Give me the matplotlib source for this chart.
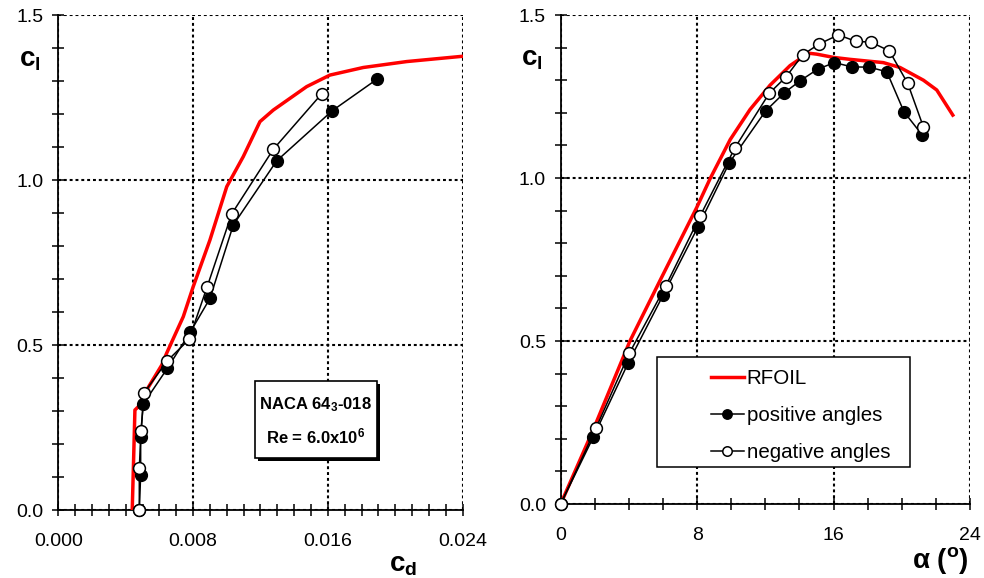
import matplotlib
matplotlib.use("Agg")
import matplotlib.pyplot as plt
import matplotlib.patheffects as pe
from matplotlib.patches import Rectangle
from matplotlib.ticker import MultipleLocator, FormatStrFormatter

plt.rcParams['font.family'] = ['Liberation Sans', 'DejaVu Sans']
plt.rcParams['mathtext.fontset'] = 'custom'
plt.rcParams['mathtext.rm'] = 'Liberation Sans'
plt.rcParams['mathtext.bf'] = 'Liberation Sans:bold'
plt.rcParams['mathtext.it'] = 'Liberation Sans:italic'

# NACA 64-3-018, Re = 6e6 -- drag polar (cd, cl)
cd_rfoil = [0.00439, 0.00447, 0.00455, 0.00475, 0.00525, 0.00614, 0.00643, 0.00742,
            0.00801, 0.00900, 0.01000, 0.01098, 0.01197, 0.01276, 0.01474, 0.01612,
            0.01810, 0.02068, 0.02420]
cl_rfoil_polar = [0.0, 0.15, 0.303, 0.313, 0.364, 0.439, 0.475, 0.586, 0.677, 0.818,
                  0.980, 1.071, 1.177, 1.212, 1.283, 1.318, 1.341, 1.359, 1.376]

cd_pos = [0.00481, 0.00489, 0.00489, 0.00504, 0.00647, 0.00782, 0.00900, 0.01039,
          0.01296, 0.01626, 0.01890]
cl_pos_polar = [0.0, 0.106, 0.220, 0.321, 0.429, 0.538, 0.641, 0.864, 1.058, 1.210, 1.305]

cd_neg = [0.00481, 0.00481, 0.00491, 0.00509, 0.00647, 0.00776, 0.00884, 0.01029,
          0.01276, 0.01563]
cl_neg_polar = [0.0, 0.126, 0.239, 0.355, 0.452, 0.517, 0.677, 0.897, 1.093, 1.261]

# lift curve (alpha, cl)
alpha_rfoil = [0.0, 1.91, 4.06, 5.82, 7.98, 8.76, 9.94, 11.1, 12.28, 13.45, 14.52,
               15.01, 16.0, 16.97, 18.92, 19.9, 21.27, 22.05, 22.99]
cl_rfoil = [0.0, 0.228, 0.50, 0.685, 0.91, 0.998, 1.118, 1.210, 1.285, 1.345, 1.383,
            1.380, 1.370, 1.364, 1.354, 1.339, 1.30, 1.27, 1.193]

alpha_pos = [0.0, 1.91, 3.96, 6.02, 8.04, 9.89, 12.02, 13.1, 14.03, 15.07, 16.05,
             17.07, 18.1, 19.12, 20.13, 21.21]
cl_pos = [0.0, 0.205, 0.433, 0.642, 0.849, 1.047, 1.206, 1.261, 1.298, 1.334, 1.354,
          1.341, 1.340, 1.326, 1.203, 1.131]

alpha_neg = [0.0, 2.07, 4.02, 6.16, 8.19, 10.22, 12.23, 13.21, 14.19, 15.15, 16.28,
             17.32, 18.18, 19.27, 20.35, 21.27]
cl_neg = [0.0, 0.233, 0.462, 0.669, 0.885, 1.093, 1.260, 1.310, 1.378, 1.411, 1.439,
          1.419, 1.417, 1.390, 1.290, 1.156]

RED = '#ff0000'
dots = (0, (1.4, 1.4))

fig = plt.figure(figsize=(9.84, 5.78), dpi=100)
ax1 = fig.add_axes([0.0592, 0.1176, 0.411, 0.8564])
ax2 = fig.add_axes([0.5698, 0.128, 0.416, 0.846])


def style_axes(ax, xmaj, xmin, xmax, ymax, xfmt):
    ax.set_xlim(0, xmax)
    ax.set_ylim(0, ymax)
    ax.xaxis.set_major_locator(MultipleLocator(xmaj))
    ax.xaxis.set_minor_locator(MultipleLocator(xmin))
    ax.yaxis.set_major_locator(MultipleLocator(0.5))
    ax.yaxis.set_minor_locator(MultipleLocator(0.1))
    ax.xaxis.set_major_formatter(FormatStrFormatter(xfmt))
    ax.yaxis.set_major_formatter(FormatStrFormatter('%.1f'))
    ax.tick_params(which='both', direction='inout', length=9, width=1.1,
                   top=False, right=False, labelsize=14, color='black')
    ax.tick_params(axis='x', pad=12)
    ax.tick_params(axis='y', pad=6)
    ax.grid(True, which='major', color='black', linestyle=dots, linewidth=1.5)
    ax.spines['top'].set_visible(False)
    ax.spines['right'].set_visible(False)
    ax.spines['left'].set_linewidth(1.3)
    ax.spines['bottom'].set_linewidth(1.3)
    ax.set_axisbelow(True)
    ax.text(-0.07, 0.91, r'$\mathbf{c_l}$', transform=ax.transAxes, fontsize=20,
            ha='center', va='center')


def draw_series(ax, x_rf, y_rf, x_p, y_p, x_n, y_n):
    ax.plot(x_rf, y_rf, color=RED, linewidth=2.5, label='RFOIL', zorder=3)
    ax.plot(x_p, y_p, color='black', linewidth=1.1, marker='o', markersize=8.5,
            markerfacecolor='black', markeredgecolor='black', label='positive angles',
            zorder=4, clip_on=False)
    ax.plot(x_n, y_n, color='black', linewidth=1.1, marker='o', markersize=8.5,
            markerfacecolor='white', markeredgecolor='black', markeredgewidth=1.1,
            label='negative angles', zorder=5, clip_on=False)


# left: drag polar
style_axes(ax1, 0.008, 0.001, 0.024, 1.5, '%.3f')
draw_series(ax1, cd_rfoil, cl_rfoil_polar, cd_pos, cl_pos_polar, cd_neg, cl_neg_polar)
ax1.text(0.852, -0.111, r'$\mathbf{c_d}$', transform=ax1.transAxes, fontsize=20,
         ha='center', va='center')

# airfoil / Reynolds number box with a drop shadow
box = Rectangle((0.486, 0.105), 0.302, 0.156, transform=ax1.transAxes,
                facecolor='white', edgecolor='black', linewidth=1.2, zorder=6)
box.set_path_effects([pe.SimplePatchShadow(offset=(2.2, -2.2), shadow_rgbFace='black',
                                           alpha=1.0), pe.Normal()])
ax1.add_patch(box)
ax1.text(0.637, 0.212, 'NACA 64$_{\\mathbf{3}}$-018', transform=ax1.transAxes,
         fontsize=12, fontweight='bold', ha='center', va='center', zorder=7)
ax1.text(0.637, 0.148, 'Re = 6.0x10$^{\\mathbf{6}}$', transform=ax1.transAxes,
         fontsize=12, fontweight='bold', ha='center', va='center', zorder=7)

# right: lift curve
style_axes(ax2, 8, 2, 24, 1.5, '%d')
draw_series(ax2, alpha_rfoil, cl_rfoil, alpha_pos, cl_pos, alpha_neg, cl_neg)
ax2.text(0.927, -0.115, r'α ($^{\mathbf{o}}$)', transform=ax2.transAxes, fontsize=20,
         fontweight='bold', ha='center', va='center')

frame = Rectangle((0.235, 0.0757), 0.618, 0.225, transform=ax2.transAxes,
                  facecolor='white', edgecolor='black', linewidth=1.1, zorder=8)
ax2.add_patch(frame)
leg = ax2.legend(loc='upper left', bbox_to_anchor=(0.3665, 0.276), fontsize=14.8,
                 frameon=False, handlelength=1.6, handletextpad=0.15,
                 labelspacing=0.87, borderpad=0.0, borderaxespad=0.0, markerscale=0.8)
leg.set_zorder(10)

fig.savefig('out.png', dpi=100)
